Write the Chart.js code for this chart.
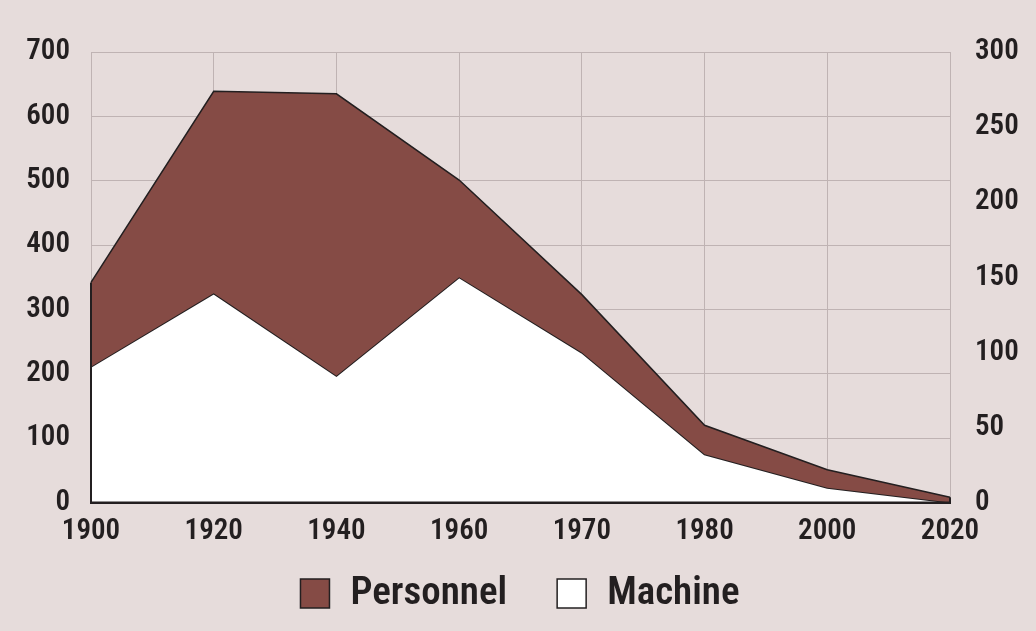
<!DOCTYPE html>
<html>
<head>
<meta charset="utf-8">
<script src="https://cdn.jsdelivr.net/npm/chart.js@4.4.1/dist/chart.umd.min.js"></script>
<style>
  html, body { margin: 0; padding: 0; background: #e6dcdb; }
  #wrap { width: 1036px; height: 631px; }
</style>
</head>
<body>
<div id="wrap"><canvas id="c" width="1036" height="631"></canvas></div>
<script>
const categories = ['1900', '1920', '1940', '1960', '1970', '1980', '2000', '2020'];
const personnel = [342, 639, 635, 501, 323, 120, 51, 8];
const machine = [211, 325, 197, 350, 233, 75, 23, 0];
const leftTicks = [0, 100, 200, 300, 400, 500, 600, 700];
const rightTicks = [0, 50, 100, 150, 200, 250, 300];

const FONT = "'Roboto Condensed', 'Liberation Sans Narrow', 'DejaVu Sans Condensed', sans-serif";
const INK = '#231f20';
const GRID = '#bfb3b3';
const BROWN = '#854b45';

const edgePlugin = {
  id: 'edges',
  afterDatasetsDraw(chart) {
    const x = chart.scales.x, y = chart.scales.y;
    const ctx = chart.ctx;
    ctx.save();
    ctx.strokeStyle = INK;
    ctx.lineWidth = 2;
    const last = categories.length - 1;
    [[0, personnel[0]], [last, personnel[last]]].forEach(([i, v]) => {
      const px = x.getPixelForValue(i);
      ctx.beginPath();
      ctx.moveTo(px, y.getPixelForValue(0));
      ctx.lineTo(px, y.getPixelForValue(v));
      ctx.stroke();
    });
    ctx.beginPath();
    ctx.moveTo(x.getPixelForValue(0), y.getPixelForValue(0));
    ctx.lineTo(x.getPixelForValue(last), y.getPixelForValue(0));
    ctx.stroke();
    ctx.restore();
  }
};

// Legend drawn from the datasets (labels + colours), with custom spacing
const legendPlugin = {
  id: 'customLegend',
  afterDraw(chart) {
    const ctx = chart.ctx;
    const box = 29, boxGap = 21, itemGap = 50;
    const cy = 593.5;
    ctx.save();
    ctx.font = `600 39px ${FONT}`;
    ctx.textBaseline = 'middle';
    ctx.textAlign = 'left';
    const items = chart.data.datasets.map(ds => ({
      text: ds.label, fill: ds.backgroundColor, stroke: ds.borderColor,
      w: ctx.measureText(ds.label).width
    }));
    const total = items.reduce((s, it) => s + box + boxGap + it.w, 0) + itemGap * (items.length - 1);
    let x = chart.width / 2 + 2 - total / 2;
    items.forEach(it => {
      ctx.fillStyle = it.fill;
      ctx.fillRect(x, cy - box / 2, box, box);
      ctx.strokeStyle = it.stroke;
      ctx.lineWidth = 1.5;
      ctx.strokeRect(x, cy - box / 2, box, box);
      ctx.fillStyle = INK;
      ctx.fillText(it.text, x + box + boxGap, cy + 1);
      x += box + boxGap + it.w + itemGap;
    });
    ctx.restore();
  }
};

new Chart(document.getElementById('c'), {
  type: 'line',
  data: {
    labels: categories,
    datasets: [
      {
        label: 'Personnel',
        data: personnel,
        yAxisID: 'y',
        backgroundColor: BROWN,
        borderColor: INK,
        borderWidth: 1.5,
        fill: '+1',
        tension: 0,
        pointRadius: 0
      },
      {
        label: 'Machine',
        data: machine,
        yAxisID: 'y',
        backgroundColor: '#ffffff',
        borderColor: INK,
        borderWidth: 2,
        fill: 'origin',
        tension: 0,
        pointRadius: 0
      }
    ]
  },
  options: {
    responsive: false,
    animation: false,
    devicePixelRatio: 1,
    layout: { padding: { top: 52, bottom: 78.5, left: 0, right: 0 } },
    plugins: {
      legend: { display: false },
      tooltip: { enabled: false }
    },
    scales: {
      x: {
        type: 'category',
        offset: false,
        grid: { color: GRID, lineWidth: 1, drawTicks: false },
        border: { color: INK, width: 2 },
        ticks: {
          font: { family: FONT, size: 29, weight: '600' },
          color: INK,
          padding: 12,
          maxRotation: 0,
          autoSkip: false
        },
        afterFit(s) { s.height = 50; }
      },
      y: {
        position: 'left',
        min: 0,
        max: 700,
        grid: { color: GRID, lineWidth: 1, drawTicks: false },
        border: { color: GRID, width: 1 },
        afterBuildTicks(s) { s.ticks = leftTicks.map(v => ({ value: v })); },
        ticks: {
          font: { family: FONT, size: 29, weight: '600' },
          color: INK,
          padding: 21
        },
        afterFit(s) { s.width = 91; }
      },
      y1: {
        position: 'right',
        min: 0,
        max: 300,
        grid: { display: false, drawTicks: false },
        border: { display: false },
        afterBuildTicks(s) { s.ticks = rightTicks.map(v => ({ value: v })); },
        ticks: {
          font: { family: FONT, size: 29, weight: '600' },
          color: INK,
          padding: 25
        },
        afterFit(s) { s.width = 86; }
      }
    }
  },
  plugins: [edgePlugin, legendPlugin]
});
</script>
</body>
</html>
